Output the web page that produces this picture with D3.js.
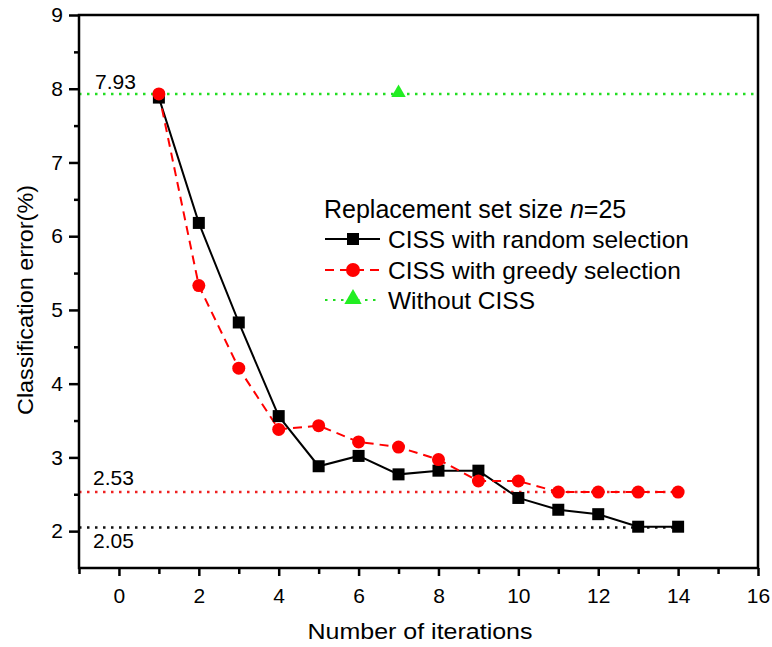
<!DOCTYPE html>
<html><head><meta charset="utf-8">
<script src="https://cdn.jsdelivr.net/npm/d3@7"></script>
<style>body{margin:0;background:#fff}svg{display:block}text{font-family:"Liberation Sans",Arial,sans-serif}</style>
</head><body><div id="chart"></div>
<script>
const iterations = [1,2,3,4,5,6,7,8,9,10,11,12,13,14];
const randomSel = [7.88,6.18,4.83,3.56,2.88,3.02,2.77,2.82,2.82,2.45,2.29,2.23,2.06,2.06];
const greedySel = [7.93,5.33,4.21,3.38,3.43,3.21,3.14,2.97,2.68,2.68,2.53,2.53,2.53,2.53];
const withoutCISS = 7.93;
const withoutX = 7;
const refLines = [
  {value:7.93, label:"7.93", color:"#22dd22", xEnd:16},
  {value:2.53, label:"2.53", color:"#ee2222", xEnd:14},
  {value:2.05, label:"2.05", color:"#111111", xEnd:14}
];
const xTicks = [0,2,4,6,8,10,12,14,16];
const yTicks = [2,3,4,5,6,7,8,9];

const W=772,H=647;
const m={l:79,r:14,t:15,b:79};
const svg=d3.select("#chart").append("svg").attr("width",W).attr("height",H);
const x=d3.scaleLinear().domain([-1,16]).range([m.l,W-m.r]);
const y=d3.scaleLinear().domain([1.5,9]).range([H-m.b,m.t]);

// reference dotted lines
refLines.forEach(r=>{
  svg.append("line").attr("x1",x(-1)).attr("x2",x(r.xEnd)).attr("y1",y(r.value)).attr("y2",y(r.value))
    .attr("stroke",r.color).attr("stroke-width",2.5).attr("stroke-dasharray","2.5,5.5");
});
svg.append("text").attr("x",95).attr("y",y(7.93)-5).attr("font-size",21).text(refLines[0].label);
svg.append("text").attr("x",93).attr("y",y(2.53)-7).attr("font-size",21).text(refLines[1].label);
svg.append("text").attr("x",93).attr("y",y(2.05)+21).attr("font-size",21).text(refLines[2].label);

// lines
const line=d3.line().x((d,i)=>x(iterations[i])).y(d=>y(d));
svg.append("path").datum(randomSel).attr("d",line).attr("fill","none").attr("stroke","#000").attr("stroke-width",2);
svg.append("path").datum(greedySel).attr("d",line).attr("fill","none").attr("stroke","#ff0000").attr("stroke-width",2).attr("stroke-dasharray","9,6");

// markers
svg.selectAll(".sq").data(randomSel).enter().append("rect")
  .attr("x",(d,i)=>x(iterations[i])-6).attr("y",d=>y(d)-6).attr("width",12).attr("height",12).attr("fill","#000");
svg.selectAll(".ci").data(greedySel).enter().append("circle")
  .attr("cx",(d,i)=>x(iterations[i])).attr("cy",d=>y(d)).attr("r",6.5).attr("fill","#ff0000");
const tri=d3.symbol().type(d3.symbolTriangle).size(90);
const triL=d3.symbol().type(d3.symbolTriangle).size(130);
svg.append("path").attr("d",tri).attr("transform",`translate(${x(withoutX)},${y(withoutCISS)-1})`).attr("fill","#22ee22");

// frame
svg.append("rect").attr("x",x(-1)).attr("y",y(9)).attr("width",x(16)-x(-1)).attr("height",y(1.5)-y(9))
  .attr("fill","none").attr("stroke","#000").attr("stroke-width",2.5);

// x axis ticks
const xAxis=d3.axisBottom(x).tickValues(xTicks).tickSize(8).tickSizeOuter(0).tickFormat(d3.format("d"));
const gx=svg.append("g").attr("transform",`translate(0,${y(1.5)})`).call(xAxis);
gx.select(".domain").remove();
gx.selectAll("line").attr("stroke-width",2.5);
gx.selectAll("text").attr("font-size",21).attr("dy","0.71em").attr("y",20).attr("fill","#000").attr("font-family","Liberation Sans, Arial, sans-serif");
const gxm=svg.append("g").attr("transform",`translate(0,${y(1.5)})`).call(d3.axisBottom(x).tickValues(d3.range(-1,16,2)).tickSize(6).tickFormat(""));
gxm.select(".domain").remove(); gxm.selectAll("line").attr("stroke-width",2.5);

const yAxis=d3.axisLeft(y).tickValues(yTicks).tickSize(10).tickSizeOuter(0).tickFormat(d3.format("d"));
const gy=svg.append("g").attr("transform",`translate(${x(-1)},0)`).call(yAxis);
gy.select(".domain").remove();
gy.selectAll("line").attr("stroke-width",2.5);
gy.selectAll("text").attr("font-size",21).attr("x",-16).attr("fill","#000").attr("font-family","Liberation Sans, Arial, sans-serif");
const gym=svg.append("g").attr("transform",`translate(${x(-1)},0)`).call(d3.axisLeft(y).tickValues(d3.range(2.5,9,1)).tickSize(5).tickFormat(""));
gym.select(".domain").remove(); gym.selectAll("line").attr("stroke-width",2.5);

// axis titles
svg.append("text").attr("x",420).attr("y",639).attr("text-anchor","middle").attr("font-size",22)
  .attr("textLength",225).attr("lengthAdjust","spacingAndGlyphs").text("Number of iterations");
svg.append("text").attr("transform","translate(33,300) rotate(-90)").attr("text-anchor","middle").attr("font-size",22)
  .attr("textLength",230).attr("lengthAdjust","spacingAndGlyphs").text("Classification error(%)");

// legend
const lg=svg.append("g");
const lt=lg.append("text").attr("x",324).attr("y",218).attr("font-size",25);
lt.append("tspan").text("Replacement set size ");
lt.append("tspan").attr("font-style","italic").text("n");
lt.append("tspan").text("=25");
const items=[
  {label:"CISS with random selection",color:"#000",dash:null,mark:"sq",cy:239},
  {label:"CISS with greedy selection",color:"#ff0000",dash:"9,6",mark:"ci",cy:270},
  {label:"Without CISS",color:"#22dd22",dash:"2.5,5.5",mark:"tri",cy:300}
];
items.forEach(it=>{
  lg.append("line").attr("x1",325).attr("x2",380).attr("y1",it.cy).attr("y2",it.cy).attr("stroke",it.color).attr("stroke-width",2.2).attr("stroke-dasharray",it.dash);
  if(it.mark==="sq") lg.append("rect").attr("x",347).attr("y",it.cy-6).attr("width",12).attr("height",12).attr("fill","#000");
  if(it.mark==="ci") lg.append("circle").attr("cx",353).attr("cy",it.cy).attr("r",7).attr("fill","#ff0000");
  if(it.mark==="tri") lg.append("path").attr("d",triL).attr("transform",`translate(353,${it.cy-1})`).attr("fill","#22ee22");
  lg.append("text").attr("x",388).attr("y",it.cy+9).attr("font-size",24.5).text(it.label);
});
</script></body></html>
